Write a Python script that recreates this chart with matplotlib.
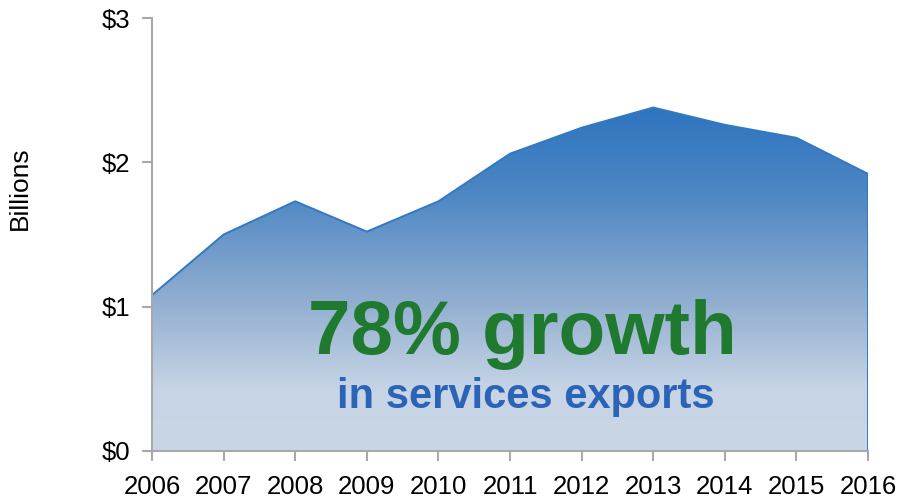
import numpy as np
import matplotlib.pyplot as plt
from matplotlib.colors import LinearSegmentedColormap

years = [2006, 2007, 2008, 2009, 2010, 2011, 2012, 2013, 2014, 2015, 2016]
exports = [1.08, 1.50, 1.73, 1.52, 1.73, 2.06, 2.24, 2.38, 2.26, 2.17, 1.92]
yticks = [0, 1, 2, 3]
ylabels = ['$0', '$1', '$2', '$3']

plt.rcParams['font.family'] = ['Liberation Sans', 'DejaVu Sans']

fig = plt.figure(figsize=(8.97, 4.99), dpi=100)
ax = fig.add_axes([0.1695, 0.0962, 0.7982, 0.8677])

# gradient fill clipped to the area
cmap = LinearSegmentedColormap.from_list('g', [
    (0.0, '#c9d6e6'), (0.18, '#c6d4e5'), (0.45, '#8eaccf'),
    (0.75, '#4d87c4'), (1.0, '#2d74bf')])
grad = np.linspace(0, 1, 256).reshape(-1, 1)
poly = ax.fill_between(years, 0, exports, color='none', lw=0)
img = ax.imshow(grad, cmap=cmap, aspect='auto', origin='lower',
                extent=[years[0], years[-1], 0, max(exports)], zorder=1)
img.set_clip_path(poly.get_paths()[0], transform=ax.transData)
ax.plot(years, exports, color='#3378c2', lw=1.4, zorder=2)
ax.plot([years[-1], years[-1]], [0, exports[-1]], color='#3378c2', lw=1.4, zorder=2)

ax.text(2011.17, 0.675, '78% growth', color='#1f7a30', fontsize=55,
        fontweight='bold', ha='center', va='baseline', zorder=3)
ax.text(2011.22, 0.30, 'in services exports', color='#2b63b6', fontsize=30,
        fontweight='bold', ha='center', va='baseline', zorder=3)

ax.set_xlim(years[0], years[-1])
ax.set_ylim(0, 3)
ax.set_xticks(years)
ax.set_xticklabels([str(y) for y in years], fontsize=18.5)
ax.set_yticks(yticks)
ax.set_yticklabels(ylabels, fontsize=18.5)
ax.set_ylabel('Billions', fontsize=19)
ax.yaxis.set_label_coords(-0.168, 0.607)

for s in ['top', 'right']:
    ax.spines[s].set_visible(False)
for s in ['left', 'bottom']:
    ax.spines[s].set_color('#a8a8a8')
    ax.spines[s].set_linewidth(1.5)
ax.tick_params(axis='both', colors='#a8a8a8', length=7, width=1.5, labelcolor='black')
ax.tick_params(axis='y', pad=9)
ax.tick_params(axis='x', pad=10)

fig.savefig('out.png', dpi=100)
